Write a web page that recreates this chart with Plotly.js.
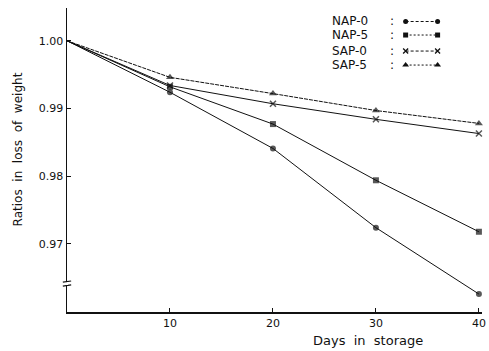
<!DOCTYPE html>
<html><head><meta charset="utf-8">
<script src="https://cdn.plot.ly/plotly-3.0.1.min.js"></script>
<style>html,body{margin:0;padding:0;background:#fff}#c{width:489px;height:351px}</style>
</head><body><div id="c"></div>
<script>
const days = [0, 10, 20, 30, 40];
const seriesNames = ["NAP-0", "NAP-5", "SAP-0", "SAP-5"];
const nap0 = [1.000, 0.9924, 0.9841, 0.9724, 0.9626];
const nap5 = [1.000, 0.9932, 0.9877, 0.9794, 0.9718];
const sap0 = [1.000, 0.9934, 0.9907, 0.9884, 0.9863];
const sap5 = [1.000, 0.9946, 0.9922, 0.9897, 0.9878];
const yTicks = [0.97, 0.98, 0.99, 1.00];
const xTicks = [10, 20, 30, 40];

const symbols = ["circle", "square", "x-thin-open", "triangle-up"];
const plotDash = ["solid", "solid", "solid", "4px,1px"];
const legDash = ["3px,2px", "2px,2px", "3px,2px", "2px,2px"];
const allY = [nap0, nap5, sap0, sap5];
const FONT = "DejaVu Sans";

const traces = allY.map((ys, i) => ({
  x: days, y: ys, type: "scatter", mode: "lines+markers", name: seriesNames[i],
  line: {color: "#111", width: 1, dash: plotDash[i]},
  marker: {symbol: symbols[i], color: "#111", size: days.map(d => d === 0 ? 0 : (i === 3 ? 7 : 6)),
           line: {color: "#111", width: i === 2 ? 1.5 : 0}},
  showlegend: false, cliponaxis: false
}));

// custom legend: text, colon, sample line with end markers
const legRowY = [0.9556, 0.9111, 0.8584, 0.8123];
const annotations = [];
seriesNames.forEach((n, i) => {
  traces.push({
    x: [0.816, 0.893], y: [legRowY[i], legRowY[i]], xaxis: "x2", yaxis: "y2",
    type: "scatter", mode: "lines+markers", showlegend: false, hoverinfo: "skip",
    line: {color: "#111", width: 1, dash: legDash[i]},
    marker: {symbol: symbols[i], color: "#111", size: i === 3 ? 6 : 5, line: {color: "#111", width: i === 2 ? 1.3 : 0}},
    cliponaxis: false
  });
  annotations.push({xref: "paper", yref: "paper", x: 0.634, y: legRowY[i], xanchor: "left", yanchor: "middle",
    text: n, showarrow: false, font: {family: FONT, size: 12, color: "#111"}});
  annotations.push({xref: "paper", yref: "paper", x: 0.782, y: legRowY[i], xanchor: "center", yanchor: "middle",
    text: ":", showarrow: false, font: {family: FONT, size: 12, color: "#111"}});
});
annotations.push({xref: "paper", yref: "paper", x: -0.118, y: 0.535, xanchor: "center", yanchor: "middle",
  text: "Ratios&nbsp; in&nbsp; loss&nbsp; of&nbsp; weight", textangle: -90, showarrow: false,
  font: {family: FONT, size: 12, color: "#111"}});
annotations.push({xref: "paper", yref: "paper", x: 0.725, y: -0.093, xanchor: "center", yanchor: "middle",
  text: "Days&nbsp; in&nbsp; storage", showarrow: false, font: {family: FONT, size: 13, color: "#111"}});

// axis break mark on the y axis
const shapes = [
  {type: "line", xref: "paper", yref: "paper", x0: -0.010, x1: 0.010, y0: 0.098, y1: 0.102, line: {color: "#111", width: 1.2}},
  {type: "line", xref: "paper", yref: "paper", x0: -0.010, x1: 0.010, y0: 0.085, y1: 0.089, line: {color: "#111", width: 1.2}},
  {type: "line", xref: "paper", yref: "paper", x0: 0, x1: 0, y0: 0.089, y1: 0.098, line: {color: "#fff", width: 2}}
];

const layout = {
  width: 489, height: 351,
  margin: {l: 67, r: 7, t: 8, b: 39.3},
  paper_bgcolor: "#fff", plot_bgcolor: "#fff",
  font: {family: FONT, size: 11, color: "#111"},
  showlegend: false,
  xaxis: {range: [0, 40.3], tickvals: xTicks, ticktext: xTicks.map(String), ticks: "inside", ticklen: 4,
          tickcolor: "#111", showgrid: false, zeroline: false, showline: true, linecolor: "#111", linewidth: 1.5,
          tickfont: {family: FONT, size: 11, color: "#111"}},
  yaxis: {range: [0.95995, 1.00484], tickvals: yTicks, ticktext: yTicks.map(v => v.toFixed(2)), ticks: "inside",
          ticklen: 4, tickcolor: "#111", showgrid: false, zeroline: false, showline: true, linecolor: "#111",
          linewidth: 1.5, tickfont: {family: FONT, size: 11, color: "#111"}},
  xaxis2: {overlaying: "x", range: [0, 1], visible: false},
  yaxis2: {overlaying: "y", range: [0, 1], visible: false},
  annotations: annotations, shapes: shapes
};

Plotly.newPlot("c", traces, layout, {staticPlot: true, displayModeBar: false});
</script></body></html>
